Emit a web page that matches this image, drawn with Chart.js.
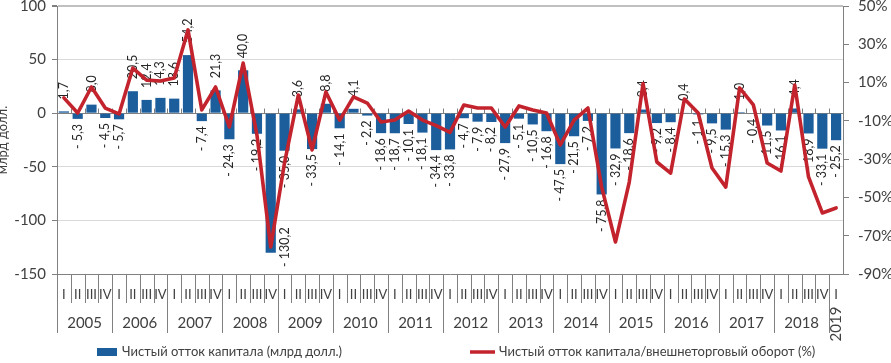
<!DOCTYPE html>
<html>
<head>
<meta charset="utf-8">
<script src="https://cdn.jsdelivr.net/npm/chart.js@4/dist/chart.umd.min.js"></script>
<style>
html,body{margin:0;padding:0;background:#fff;}
#wrap{width:891px;height:363px;position:relative;overflow:hidden;}
canvas{display:block;}
</style>
</head>
<body>
<div id="wrap"><canvas id="c" width="891" height="363"></canvas></div>
<script>
// ---- DATA ----
const years = ['2005','2006','2007','2008','2009','2010','2011','2012','2013','2014','2015','2016','2017','2018','2019'];
const quarterNames = ['I','II','III','IV'];
const categories = [
  '2005 I','2005 II','2005 III','2005 IV',
  '2006 I','2006 II','2006 III','2006 IV',
  '2007 I','2007 II','2007 III','2007 IV',
  '2008 I','2008 II','2008 III','2008 IV',
  '2009 I','2009 II','2009 III','2009 IV',
  '2010 I','2010 II','2010 III','2010 IV',
  '2011 I','2011 II','2011 III','2011 IV',
  '2012 I','2012 II','2012 III','2012 IV',
  '2013 I','2013 II','2013 III','2013 IV',
  '2014 I','2014 II','2014 III','2014 IV',
  '2015 I','2015 II','2015 III','2015 IV',
  '2016 I','2016 II','2016 III','2016 IV',
  '2017 I','2017 II','2017 III','2017 IV',
  '2018 I','2018 II','2018 III','2018 IV',
  '2019 I'
];
// Чистый отток капитала, млрд долл.
const capitalOutflow = [
  1.7, -5.3, 8.0, -4.5,
  -5.7, 20.5, 12.4, 14.3,
  13.6, 54.2, -7.4, 21.3,
  -24.3, 40.0, -19.2, -130.2,
  -35.0, 3.6, -33.5, 8.8,
  -14.1, 4.1, -2.2, -18.6,
  -18.7, -10.1, -18.1, -34.4,
  -33.8, -4.7, -7.9, -8.2,
  -27.9, -5.1, -10.5, -16.8,
  -47.5, -21.5, -7.2, -75.8,
  -32.9, -18.6, 3.4, -9.2,
  -8.4, 0.4, -1.1, -9.5,
  -15.3, 1.0, -0.4, -11.5,
  -16.1, 4.4, -18.9, -33.1,
  -25.2
];
// Чистый отток капитала / внешнеторговый оборот, %
const outflowToTrade = [
  2.0, -5.9, 7.7, -3.3,
  -6.4, 17.6, 11.3, 10.8,
  12.4, 37.5, -4.3, 7.7,
  -13.2, 20.2, -17.4, -75.9,
  -31.9, 3.5, -25.2, 5.1,
  -9.6, 2.5, -0.7, -10.6,
  -9.6, -4.9, -9.6, -12.5,
  -16.0, -1.7, -3.3, -3.3,
  -13.2, -2.2, -4.3, -5.9,
  -22.6, -9.6, -3.3, -44.6,
  -73.3, -42.0, 9.5, -31.5,
  -37.3, 1.4, -5.9, -34.6,
  -44.6, 7.2, -1.7, -32.0,
  -36.2, 8.7, -39.3, -58.1,
  -55.5
];
const leftTicks = [100, 50, 0, -50, -100, -150];
const rightTicks = [50, 30, 10, -10, -30, -50, -70, -90];
const seriesNames = ['Чистый отток капитала (млрд долл.)', 'Чистый отток капитала/внешнеторговый оборот (%)'];
const leftTitle = 'млрд долл.';

// ---- STYLE ----
const FONT = 'Lato, "Liberation Sans", sans-serif';
const BAR_COLOR = '#1c5d9c';
const LINE_COLOR = '#c3232c';
const AXIS_COLOR = '#808080';
const TEXT_COLOR = '#404040';

const fmt = v => {
  const s = Math.abs(v).toFixed(1).replace('.', ',');
  return v < 0 ? '- ' + s : s;
};

const barLabels = {
  id: 'barLabels',
  afterDatasetDraw(chart, args) {
    if (args.index !== 0) return;
    const ctx = chart.ctx, area = chart.chartArea;
    ctx.save();
    ctx.font = '12.5px ' + FONT;
    ctx.fillStyle = '#262626';
    ctx.textBaseline = 'middle';
    args.meta.data.forEach((el, i) => {
      const v = capitalOutflow[i];
      const t = fmt(v);
      const w = ctx.measureText(t).width;
      let x = el.x;
      ctx.save();
      if (v >= 0) {
        ctx.translate(x, el.y - 12);
        ctx.rotate(-Math.PI / 2);
        ctx.textAlign = 'left';
      } else {
        let yy = el.y + 5;
        if (yy + w > area.bottom - 4) { x += el.width * 1.4; yy = area.bottom - 7 - w; }
        ctx.translate(x, yy);
        ctx.rotate(-Math.PI / 2);
        ctx.textAlign = 'right';
      }
      ctx.fillText(t, 0, 0);
      ctx.restore();
    });
    ctx.restore();
  }
};

const axisDecor = {
  id: 'axisDecor',
  beforeDatasetsDraw(chart) {
    const ctx = chart.ctx, xs = chart.scales.x, ys = chart.scales.y;
    const y0 = Math.round(ys.getPixelForValue(0)) + 0.5;
    const step = xs.width / categories.length;
    ctx.save();
    ctx.strokeStyle = AXIS_COLOR; ctx.lineWidth = 1;
    ctx.beginPath();
    for (let i = 1; i < categories.length; i++) {
      const bx = Math.round(xs.getPixelForValue(i) - step / 2) + 0.5;
      ctx.moveTo(bx, y0 - 5); ctx.lineTo(bx, y0);
    }
    ctx.stroke();
    ctx.restore();
  },
  afterDraw(chart) {
    const ctx = chart.ctx, xs = chart.scales.x, area = chart.chartArea;
    const step = xs.width / categories.length;
    const b = area.bottom;
    ctx.save();
    ctx.strokeStyle = AXIS_COLOR; ctx.lineWidth = 1;
    ctx.beginPath();
    for (let i = 0; i < categories.length; i++) {
      const bx = Math.round(xs.getPixelForValue(i) - step / 2) + 0.5;
      const yPrev = i > 0 ? categories[i - 1].split(' ')[0] : null;
      const yCur = categories[i].split(' ')[0];
      const isYear = yPrev !== yCur;
      ctx.moveTo(bx, b); ctx.lineTo(bx, isYear ? b + 59 : b + 29);
    }
    ctx.stroke();
    ctx.fillStyle = TEXT_COLOR;
    ctx.font = '13px ' + FONT;
    ctx.textAlign = 'center'; ctx.textBaseline = 'middle';
    categories.forEach((c, i) => {
      ctx.fillText(c.split(' ')[1], xs.getPixelForValue(i), b + 21);
    });
    ctx.font = '15px ' + FONT;
    years.forEach(yr => {
      const idx = categories.map((c, i) => c.startsWith(yr) ? i : -1).filter(i => i >= 0);
      const cx = (xs.getPixelForValue(idx[0]) + xs.getPixelForValue(idx[idx.length - 1])) / 2;
      if (idx.length >= 2) {
        ctx.fillText(yr, cx, b + 49);
      } else {
        ctx.save();
        ctx.translate(cx, b + 50);
        ctx.rotate(-Math.PI / 2);
        ctx.fillText(yr, 0, 0);
        ctx.restore();
      }
    });
    ctx.save();
    ctx.font = '13px ' + FONT;
    ctx.translate(7, (area.top + area.bottom) / 2);
    ctx.rotate(-Math.PI / 2);
    ctx.textBaseline = 'alphabetic';
    ctx.fillText(leftTitle, 0, 0);
    ctx.restore();
    ctx.font = '13px ' + FONT;
    ctx.textAlign = 'left';
    const ly = 352;
    ctx.fillStyle = BAR_COLOR;
    ctx.fillRect(97, ly - 4, 20, 8);
    ctx.fillStyle = TEXT_COLOR;
    ctx.fillText(seriesNames[0], 122, ly);
    ctx.strokeStyle = LINE_COLOR; ctx.lineWidth = 3.5;
    ctx.beginPath(); ctx.moveTo(470, ly); ctx.lineTo(495, ly); ctx.stroke();
    ctx.fillText(seriesNames[1], 499, ly);
    ctx.restore();
  }
};

Chart.defaults.font.family = FONT;
Chart.defaults.color = TEXT_COLOR;

const noPad = s => { s.paddingTop = 0; s.paddingBottom = 0; };

new Chart(document.getElementById('c'), {
  data: {
    labels: categories,
    datasets: [
      {
        type: 'bar',
        label: seriesNames[0],
        data: capitalOutflow,
        backgroundColor: BAR_COLOR,
        yAxisID: 'y',
        order: 1,
        barPercentage: 0.74,
        categoryPercentage: 1.0
      },
      {
        type: 'line',
        label: seriesNames[1],
        data: outflowToTrade,
        borderColor: LINE_COLOR,
        borderWidth: 3.6,
        pointRadius: 0,
        tension: 0,
        borderJoinStyle: 'round',
        borderCapStyle: 'round',
        yAxisID: 'y2',
        order: 0
      }
    ]
  },
  options: {
    responsive: false,
    animation: false,
    devicePixelRatio: 1,
    layout: { padding: { top: 6, left: 0, right: 0, bottom: 0 } },
    plugins: { legend: { display: false }, tooltip: { enabled: false } },
    scales: {
      x: {
        type: 'category',
        offset: true,
        grid: { display: false, drawTicks: false },
        border: { display: false },
        ticks: { display: false },
        afterFit(s) { s.height = 89; s.paddingLeft = 0; s.paddingRight = 0; }
      },
      y: {
        position: 'left',
        min: -150, max: 100,
        afterBuildTicks(s) { s.ticks = leftTicks.map(v => ({ value: v })); },
        ticks: { font: { size: 15 }, color: TEXT_COLOR, padding: 6 },
        grid: {
          color: c => {
            const v = c.tick.value;
            if (v === 0 || v === -150) return AXIS_COLOR;
            if (v === 100) return '#c0c0c0';
            return '#d9d9d9';
          },
          lineWidth: c => (c.tick.value === 100 ? 2 : 1),
          tickColor: AXIS_COLOR,
          tickLength: 5
        },
        border: { display: true, color: AXIS_COLOR },
        afterFit(s) { s.width = 57; noPad(s); }
      },
      y2: {
        position: 'right',
        min: -90, max: 50,
        afterBuildTicks(s) { s.ticks = rightTicks.map(v => ({ value: v })); },
        ticks: { font: { size: 15 }, color: TEXT_COLOR, padding: 9, callback: v => v + '%' },
        grid: { drawOnChartArea: false, tickColor: AXIS_COLOR, tickLength: 6 },
        border: { display: true, color: AXIS_COLOR },
        afterFit(s) { s.width = 48; noPad(s); }
      }
    }
  },
  plugins: [barLabels, axisDecor]
});
</script>
</body>
</html>
